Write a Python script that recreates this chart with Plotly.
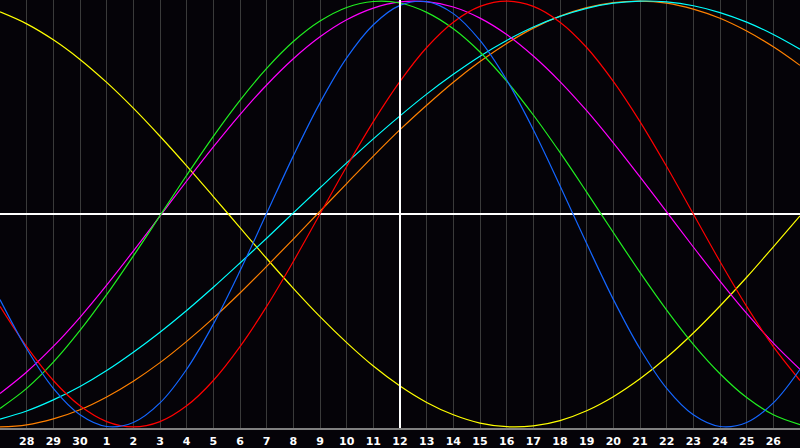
import plotly.graph_objects as go

# day index 0..30 (index 15 = today, "12")
day_index = list(range(31))
day_labels = ["27", "28", "29", "30", "1", "2", "3", "4", "5", "6", "7", "8", "9", "10", "11",
              "12", "13", "14", "15", "16", "17", "18", "19", "20", "21", "22", "23", "24",
              "25", "26", "27"]
today_index = 15

# values in percent (-100..100)
yellow = [94.9, 89.3, 81.8, 72.6, 61.8, 49.7, 36.5, 22.6, 8.2, -6.4, -20.9, -34.9, -48.2, -60.4,
          -71.4, -80.8, -88.5, -94.3, -98.2, -99.9, -99.5, -97.0, -92.4, -85.8, -77.4, -67.4,
          -55.9, -43.2, -29.7, -15.4, -0.9]
blue = [-40.2, -63.3, -81.9, -94.3, -99.8, -97.9, -88.7, -72.9, -51.7, -26.7, 0.3, 27.3, 52.2,
        73.3, 88.9, 98.0, 99.7, 94.1, 81.5, 62.9, 39.6, 13.3, -13.9, -40.1, -63.3, -81.9, -94.3,
        -99.8, -97.9, -88.7, -72.9]
red = [-43.4, -62.3, -78.2, -90.1, -97.5, -100.0, -97.5, -90.1, -78.2, -62.3, -43.4, -22.3, 0.0,
       22.3, 43.4, 62.3, 78.2, 90.1, 97.5, 100.0, 97.5, 90.1, 78.2, 62.3, 43.4, 22.3, 0.0, -22.3,
       -43.4, -62.3, -78.2]
green = [-91.3, -81.9, -69.6, -54.7, -37.9, -19.7, -0.8, 18.2, 36.5, 53.4, 68.4, 81.0, 90.6, 97.0,
         99.8, 99.1, 94.7, 87.0, 76.1, 62.4, 46.5, 28.9, 10.3, -8.7, -27.4, -45.1, -61.2, -75.0,
         -86.2, -94.3, -98.9]
magenta = [-84.3, -74.2, -62.2, -48.5, -33.4, -17.4, -1.0, 15.5, 31.5, 46.7, 60.6, 72.9, 83.2,
           91.2, 96.7, 99.6, 99.7, 97.2, 92.0, 84.3, 74.2, 62.2, 48.5, 33.4, 17.4, 1.0, -15.5,
           -31.5, -46.7, -60.6, -72.9]
cyan = [-96.3, -92.5, -87.3, -81.0, -73.5, -64.9, -55.5, -45.3, -34.4, -23.0, -11.4, 0.5, 12.3,
        24.0, 35.3, 46.1, 56.3, 65.6, 74.1, 81.5, 87.8, 92.8, 96.6, 99.0, 100.0, 99.6, 97.8, 94.6,
        90.1, 84.3, 77.4]
orange = [-100.0, -99.0, -96.2, -91.9, -85.9, -78.5, -69.8, -59.8, -48.9, -37.1, -24.6, -11.8,
          1.3, 14.3, 27.2, 39.6, 51.1, 61.9, 71.6, 80.1, 87.3, 92.9, 96.9, 99.3, 100.0, 99.0, 96.2,
          91.9, 85.9, 78.5, 69.8]

series = [
    ("yellow", yellow, "#ffff00"),
    ("orange", orange, "#ff8000"),
    ("cyan", cyan, "#00ffff"),
    ("magenta", magenta, "#ff00ff"),
    ("green", green, "#20ee20"),
    ("red", red, "#ff0000"),
    ("blue", blue, "#1466ff"),
]

fig = go.Figure()
for name, vals, col in series:
    fig.add_trace(go.Scatter(x=day_index, y=vals, mode="lines", name=name,
                             line=dict(color=col, width=1.2, shape="spline", smoothing=1.0),
                             hoverinfo="skip"))

fig.add_shape(type="line", xref="x", yref="paper", x0=today_index, x1=today_index, y0=0, y1=1,
              line=dict(color="#ffffff", width=2), layer="above")

fig.update_layout(
    width=800, height=448,
    margin=dict(l=0, r=0, t=0, b=20, autoexpand=False),
    paper_bgcolor="#050308",
    plot_bgcolor="#050308",
    showlegend=False,
    xaxis=dict(range=[0, 30], tickmode="array", tickvals=day_index[1:30],
               ticktext=day_labels[1:30], showgrid=True, gridcolor="#3a3a3a", gridwidth=1,
               zeroline=False, showline=True, mirror=True, linecolor="#808080", linewidth=2,
               ticks="", ticklabelstandoff=2,
               tickfont=dict(family="DejaVu Sans", size=11, color="#ffffff", weight="bold"),
               fixedrange=True),
    yaxis=dict(range=[-100.5, 100.5], showgrid=False, zeroline=True, zerolinecolor="#ffffff",
               zerolinewidth=2, showticklabels=False, showline=True, mirror=True,
               linecolor="#808080", linewidth=2, fixedrange=True),
)

fig.write_html("out.html", config={"displayModeBar": False},
               post_script="document.body.style.margin='0';document.body.style.background='#050308';")
